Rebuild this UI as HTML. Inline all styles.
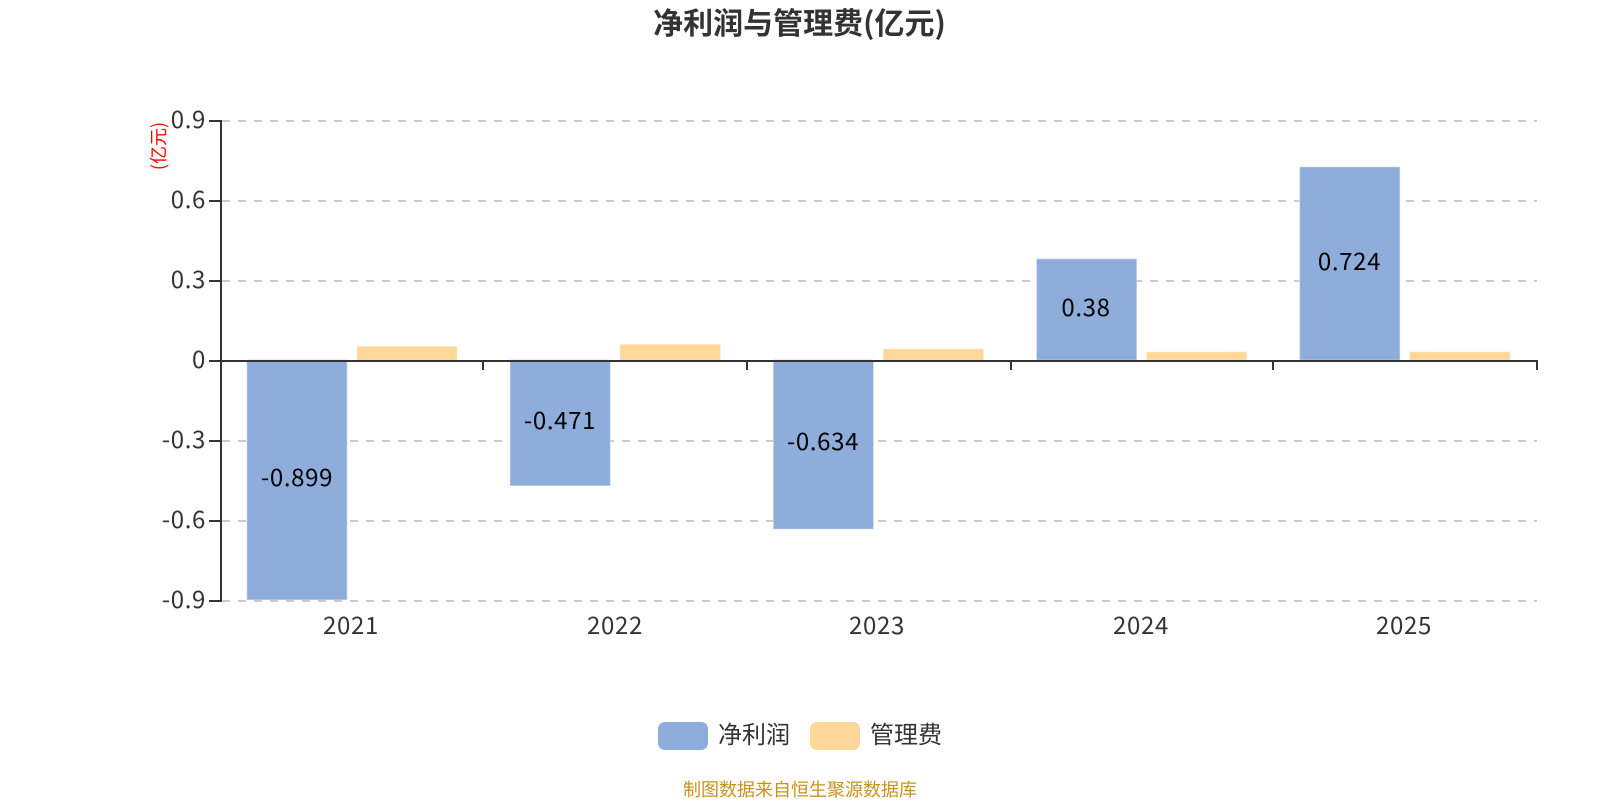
<!DOCTYPE html>
<html><head><meta charset="utf-8"><style>
html,body{margin:0;padding:0;background:#fff;width:1600px;height:800px;overflow:hidden}
svg{display:block}
text{font-family:"Noto Sans CJK SC",sans-serif}
.num text{letter-spacing:.65px}
</style></head><body>
<svg width="1600" height="800" viewBox="0 0 1600 800" xmlns="http://www.w3.org/2000/svg">
<text x="799.500" y="34" text-anchor="middle" font-size="30" font-weight="700" fill="#333">净利润与管理费(亿元)</text>
<g stroke="#ccc" stroke-width="2" stroke-dasharray="8 8">
<line x1="222" x2="1537" y1="121" y2="121"/><line x1="222" x2="1537" y1="201" y2="201"/><line x1="222" x2="1537" y1="281" y2="281"/><line x1="222" x2="1537" y1="441" y2="441"/><line x1="222" x2="1537" y1="521" y2="521"/><line x1="222" x2="1537" y1="601" y2="601"/>
</g>
<g fill="#8eadda" stroke="#c4d4ec" stroke-width="0.6">
<rect x="247" y="360" width="100" height="239.7"/><rect x="510.2" y="360" width="100" height="125.6"/><rect x="773.4" y="360" width="100" height="169"/><rect x="1036.6" y="259" width="100" height="101"/><rect x="1299.8" y="167" width="100" height="193"/>
</g>
<g fill="#ffd799" stroke="#ffe6c0" stroke-width="0.6">
<rect x="357" y="346.500" width="100" height="13.500"/><rect x="620.2" y="344.500" width="100" height="15.500"/><rect x="883.4" y="349" width="100" height="11"/><rect x="1146.600" y="352" width="100" height="8"/><rect x="1409.800" y="352" width="100" height="8"/>
</g>
<g stroke="#333" stroke-width="2" fill="none">
<line x1="221" x2="221" y1="120" y2="602"/>
<line x1="209" x2="221" y1="121" y2="121"/><line x1="209" x2="221" y1="201" y2="201"/><line x1="209" x2="221" y1="281" y2="281"/><line x1="209" x2="221" y1="361" y2="361"/><line x1="209" x2="221" y1="441" y2="441"/><line x1="209" x2="221" y1="521" y2="521"/><line x1="209" x2="221" y1="601" y2="601"/>
<line x1="221" x2="1538" y1="361" y2="361"/>
<line x1="483" x2="483" y1="361" y2="370"/><line x1="747" x2="747" y1="361" y2="370"/><line x1="1011" x2="1011" y1="361" y2="370"/><line x1="1273" x2="1273" y1="361" y2="370"/><line x1="1537" x2="1537" y1="361" y2="370"/>
</g>
<g class="num" font-size="24" fill="#333" text-anchor="end">
<text x="206" y="128">0.9</text><text x="206" y="208">0.6</text><text x="206" y="288">0.3</text><text x="206" y="368">0</text><text x="206" y="448">-0.3</text><text x="206" y="528">-0.6</text><text x="206" y="608">-0.9</text>
</g>
<g class="num" font-size="24" fill="#333" text-anchor="middle">
<text x="351" y="634">2021</text><text x="615" y="634">2022</text><text x="877" y="634">2023</text><text x="1141" y="634">2024</text><text x="1404" y="634">2025</text>
</g>
<g class="num" font-size="24" fill="#000" text-anchor="middle">
<text x="297" y="486">-0.899</text><text x="560" y="429">-0.471</text><text x="823" y="450">-0.634</text><text x="1086" y="316">0.38</text><text x="1349.500" y="270">0.724</text>
</g>
<text transform="translate(165,146) rotate(-90)" font-size="18" fill="#f00" text-anchor="middle">(亿元)</text>
<rect x="658" y="722" width="50" height="28" rx="7" fill="#8eadda"/>
<text x="718" y="743" font-size="24" fill="#333">净利润</text>
<rect x="810" y="722" width="50" height="28" rx="7" fill="#ffd799"/>
<text x="870" y="743" font-size="24" fill="#333">管理费</text>
<text x="800" y="796" font-size="18" fill="#c8921e" text-anchor="middle">制图数据来自恒生聚源数据库</text>
</svg>
</body></html>
